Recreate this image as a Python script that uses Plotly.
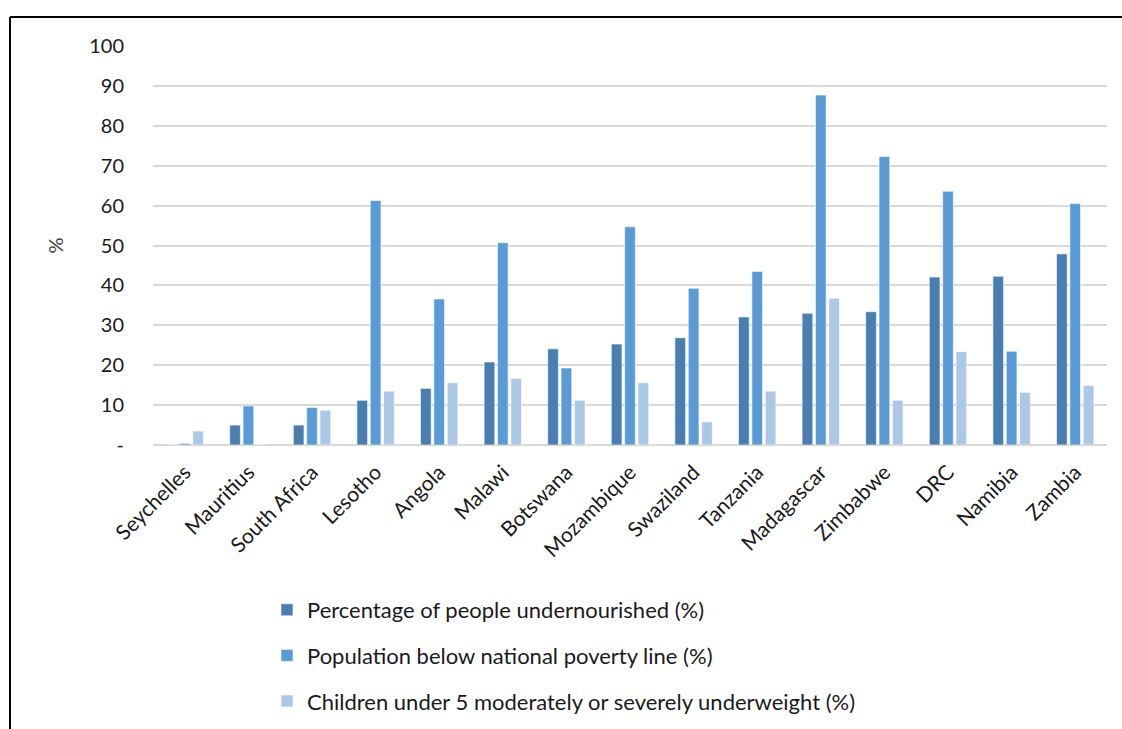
import plotly.graph_objects as go

countries = ["Seychelles", "Mauritius", "South Africa", "Lesotho", "Angola", "Malawi",
             "Botswana", "Mozambique", "Swaziland", "Tanzania", "Madagascar",
             "Zimbabwe", "DRC", "Namibia", "Zambia"]
undernourished = [0, 5.0, 5.0, 11.2, 14.2, 20.8, 24.1, 25.3, 26.9, 32.1, 33.0, 33.4, 42.1, 42.3, 47.9]
below_poverty = [0.4, 9.8, 9.4, 61.3, 36.6, 50.7, 19.3, 54.7, 39.3, 43.5, 87.7, 72.3, 63.6, 23.5, 60.5]
child_underweight = [3.5, 0, 8.7, 13.5, 15.6, 16.7, 11.2, 15.6, 5.8, 13.5, 36.8, 11.2, 23.4, 13.2, 14.9]

series_names = ["Percentage of people undernourished (%)",
                "Population below national poverty line (%)",
                "Children under 5 moderately or severely underweight (%)"]
series_values = [undernourished, below_poverty, child_underweight]
colors = ["#4a7eb1", "#5b9bd5", "#adc7e7"]

tick_vals = [0, 10, 20, 30, 40, 50, 60, 70, 80, 90, 100]
tick_text = ["-", "10", "20", "30", "40", "50", "60", "70", "80", "90", "100"]

FONT = "Lato, 'Open Sans', sans-serif"
TEXT = "#1a1a1a"

fig = go.Figure()
for i, (name, vals, col) in enumerate(zip(series_names, series_values, colors)):
    fig.add_trace(go.Bar(
        x=countries, y=vals, name=name, legendgroup=f"g{i}",
        marker=dict(color=col, line=dict(color="white", width=0.6)),
    ))

# plot area in pixels: x 153..1107, y 46..445
L, R, T, B = 153, 1107, 46, 445
W, H = 1122, 729
pw, ph = R - L, B - T
def px(x):
    return (x - L) / pw
def py(y):
    return (B - y) / ph

shapes = [
    dict(type="line", xref="paper", yref="paper", x0=px(10), x1=px(1122), y0=py(17), y1=py(17),
         line=dict(color="black", width=2)),
    dict(type="line", xref="paper", yref="paper", x0=px(10), x1=px(10), y0=py(17), y1=py(729),
         line=dict(color="black", width=2)),
]

fig.update_layout(
    width=W, height=H,
    margin=dict(l=L, r=W - R, t=T, b=H - B, autoexpand=False),
    paper_bgcolor="white", plot_bgcolor="white",
    font=dict(family=FONT, size=20, color=TEXT),
    barmode="group", bargap=0.37, bargroupgap=0.2,
    showlegend=True,
    legend=dict(orientation="v", x=px(267), y=py(589), xanchor="left", yanchor="top",
                font=dict(size=22, color=TEXT), tracegroupgap=14,
                itemwidth=30, bgcolor="rgba(0,0,0,0)"),
    shapes=shapes,
    xaxis=dict(tickangle=-45, showgrid=False, showline=False, ticks="",
               ticklabelstandoff=10, tickfont=dict(size=21, color=TEXT)),
    yaxis=dict(range=[0, 100], tickvals=tick_vals, ticktext=tick_text,
               showgrid=True, gridcolor="#d9d9d9", gridwidth=1.5,
               zeroline=True, zerolinecolor="#d9d9d9", zerolinewidth=1.5,
               showline=False, ticks="", ticklabelstandoff=28,
               tickfont=dict(size=20, color=TEXT),
               title=dict(text="%", font=dict(size=20, color="#444444"), standoff=20)),
)

fig.write_html("out.html")
